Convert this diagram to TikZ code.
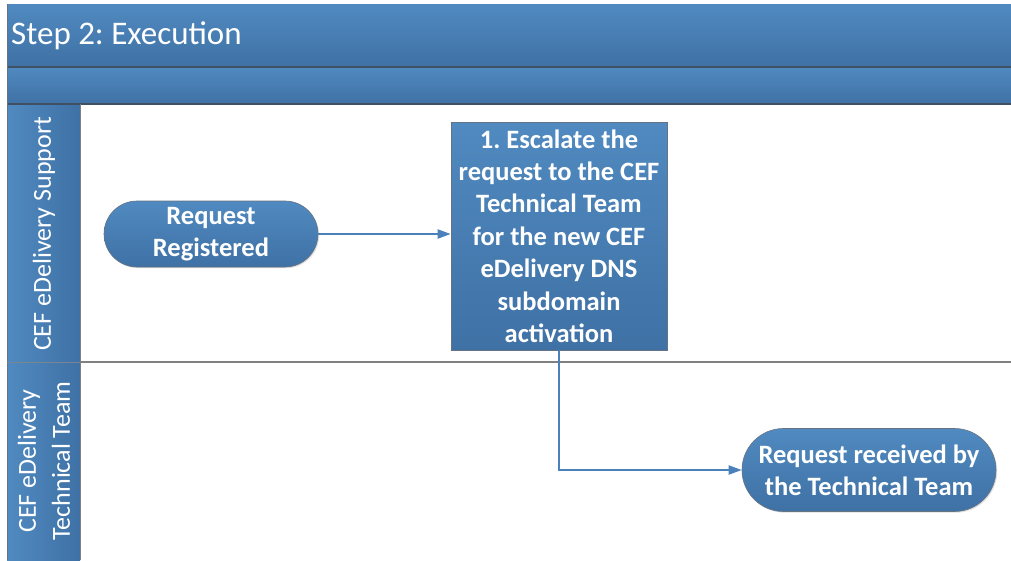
\documentclass[tikz,border=0pt]{standalone}
\usepackage{fontspec}
\setmainfont{Carlito}
\usetikzlibrary{shapes.misc,arrows.meta,shadows}
\definecolor{topc}{RGB}{80,138,192}
\definecolor{botc}{RGB}{63,113,165}
\definecolor{linec}{RGB}{74,128,188}
\definecolor{framec}{RGB}{64,80,100}
\begin{document}
\frenchspacing
\begin{tikzpicture}[x=1pt,y=-1pt,
  bluefill/.style={top color=topc,bottom color=botc},
  shp/.style={bluefill,draw=framec!80,line width=0.6pt,text=white,align=center,
    font=\fontsize{26.5}{32.4}\selectfont\bfseries,inner sep=0pt,
    drop shadow={shadow xshift=1.2pt,shadow yshift=-1.2pt,opacity=0.25}},
  proc/.style={shp,rectangle},
  term/.style={shp,rounded rectangle},
  lanelabel/.style={text=white,align=center,rotate=90,font=\fontsize{26}{34}\selectfont},
  arr/.style={draw=linec,line width=2pt,-{Triangle[length=13pt,width=9pt]}}
]
\useasboundingbox (0,0) rectangle (1011,560);
% header bands
\shade[bluefill] (7,4) rectangle (1011,67);
\shade[bluefill] (7,67) rectangle (1011,104);
% lane label cells
\shade[left color=topc,right color=botc] (7,104) rectangle (80,362);
\shade[left color=topc,right color=botc] (7,362) rectangle (80,560);
% lines
\draw[framec,line width=1.2pt] (7,67) -- (1011,67);
\draw[framec,line width=1.2pt] (7,104) -- (1011,104);
\draw[framec!80,line width=1pt] (7,4) -- (7,560);
\draw[gray,line width=1pt] (80,104) -- (80,560);
\draw[gray,line width=1.2pt] (80,362) -- (1011,362);
\draw[framec!70,line width=0.8pt] (7,362) -- (80,362);
% texts
\node[anchor=west,text=white,font=\fontsize{33}{39}\selectfont,inner sep=0pt] (title) at (11,35.5) {Step 2: Execution};
\node[lanelabel] (lane1) at (44,234) {CEF eDelivery Support};
\node[lanelabel] (lane2) at (44,461) {CEF eDelivery\\Technical Team};
% nodes
\node[term,minimum width=214pt,minimum height=66pt] (start) at (211,234) {Request\\Registered};
\node[proc,minimum width=216pt,minimum height=228pt] (esc) at (559,236) {1. Escalate the\\request to the CEF\\Technical Team\\for the new CEF\\eDelivery DNS\\subdomain\\activation};
\node[term,minimum width=254pt,minimum height=83pt] (end) at (869,470) {Request received by\\the Technical Team};
% connectors
\draw[arr] (start.east) -- (start.east -| esc.west);
\draw[arr] (esc.south) |- (end.west);
\end{tikzpicture}
\end{document}
